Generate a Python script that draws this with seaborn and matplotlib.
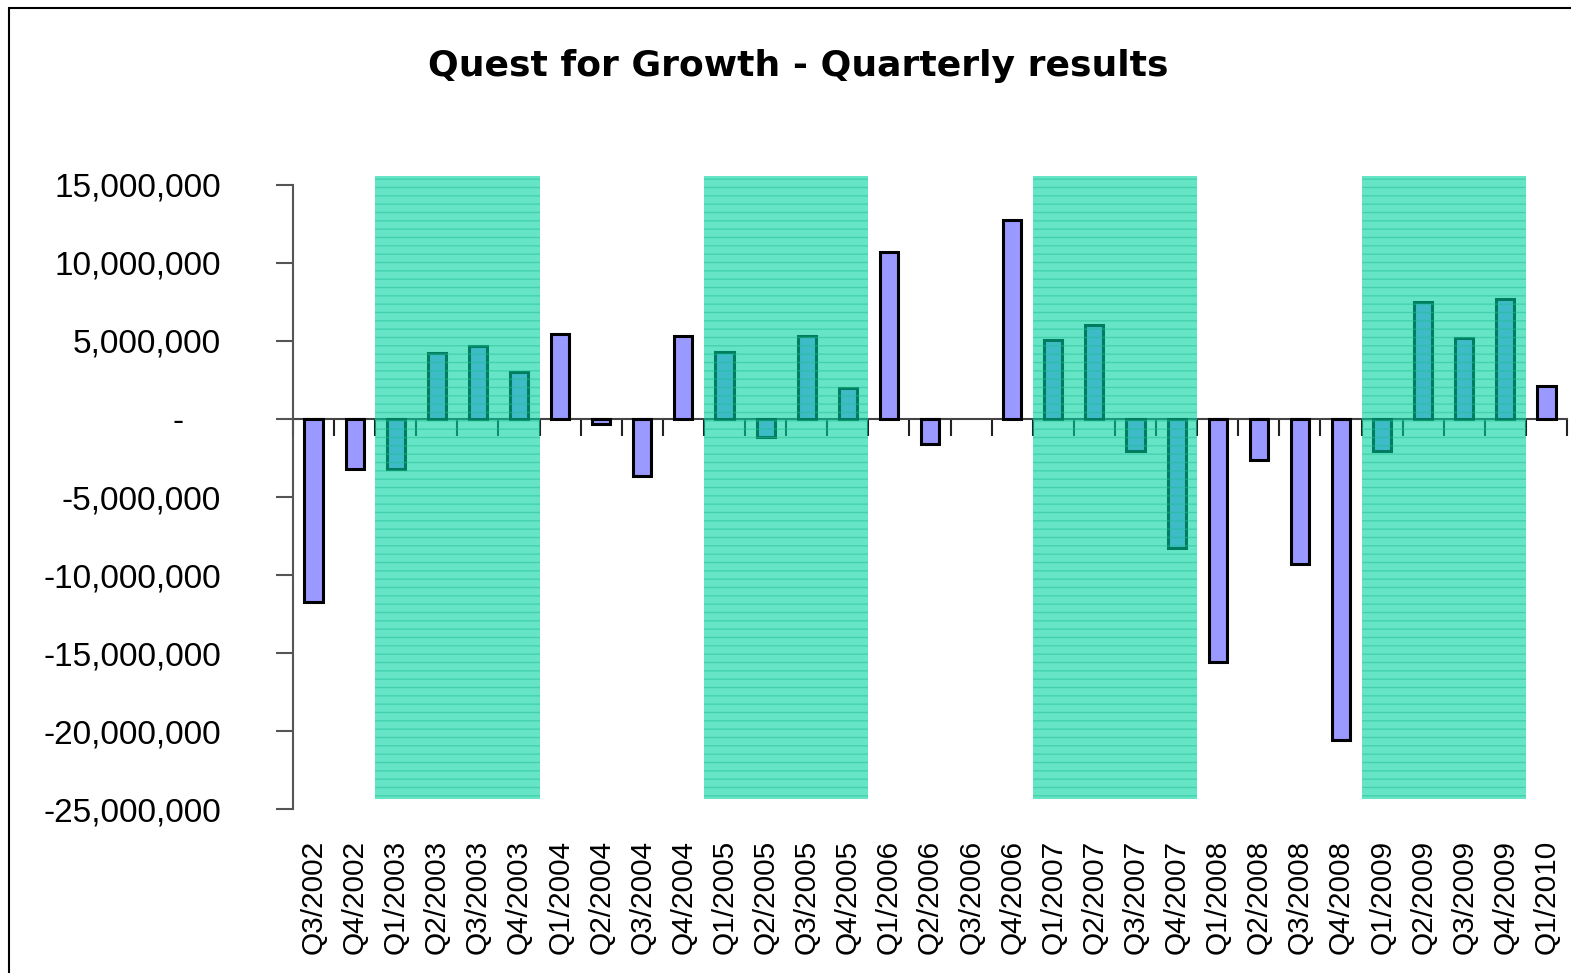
import seaborn as sns
import numpy as np
import pandas as pd
import matplotlib.pyplot as plt
from matplotlib.patches import Rectangle
from matplotlib.ticker import FuncFormatter

quarters = ["Q3/2002", "Q4/2002",
            "Q1/2003", "Q2/2003", "Q3/2003", "Q4/2003",
            "Q1/2004", "Q2/2004", "Q3/2004", "Q4/2004",
            "Q1/2005", "Q2/2005", "Q3/2005", "Q4/2005",
            "Q1/2006", "Q2/2006", "Q3/2006", "Q4/2006",
            "Q1/2007", "Q2/2007", "Q3/2007", "Q4/2007",
            "Q1/2008", "Q2/2008", "Q3/2008", "Q4/2008",
            "Q1/2009", "Q2/2009", "Q3/2009", "Q4/2009",
            "Q1/2010"]
results = [-11.7e6, -3.2e6,
           -3.2e6, 4.2e6, 4.7e6, 3.0e6,
           5.45e6, -0.3e6, -3.65e6, 5.3e6,
           4.3e6, -1.15e6, 5.3e6, 2.0e6,
           10.7e6, -1.6e6, 0.0, 12.75e6,
           5.05e6, 6.0e6, -2.05e6, -8.3e6,
           -15.6e6, -2.6e6, -9.3e6, -20.6e6,
           -2.05e6, 7.5e6, 5.2e6, 7.7e6,
           2.1e6]
# shaded years: first and last quarter
shaded_years = [("Q1/2003", "Q4/2003"), ("Q1/2005", "Q4/2005"),
                ("Q1/2007", "Q4/2007"), ("Q1/2009", "Q4/2009")]
shade_top = 15.6e6
shade_bottom = -24.35e6

df = pd.DataFrame({"Quarter": quarters, "Result": results})

sns.set_theme(style="white")
plt.rcParams['font.family'] = ['Liberation Sans', 'DejaVu Sans']
plt.rcParams['text.color'] = 'black'
plt.rcParams['xtick.color'] = 'black'
plt.rcParams['ytick.color'] = 'black'
plt.rcParams['hatch.linewidth'] = 1.0

fig = plt.figure(figsize=(15.71, 9.73), dpi=100)
ax = fig.add_axes([0.1865, 0.1685, 0.811, 0.6414])

sns.barplot(data=df, x="Quarter", y="Result", color="#9999FF", saturation=1,
            width=0.44, edgecolor="black", linewidth=2.2, ax=ax, zorder=2)
for bar in ax.patches:
    if bar.get_height() == 0:
        bar.set_edgecolor("none")

# green shading drawn over the bars
for start, end in shaded_years:
    i0 = quarters.index(start) - 0.5
    i1 = quarters.index(end) + 0.5
    ax.add_patch(Rectangle((i0, shade_bottom), i1 - i0, shade_top - shade_bottom,
                           facecolor="#00D2A0", alpha=0.6, edgecolor="none",
                           zorder=3, clip_on=False))
    ax.add_patch(Rectangle((i0, shade_bottom), i1 - i0, shade_top - shade_bottom,
                           fill=False, hatch="--", edgecolor="#1FBF90", alpha=0.5,
                           linewidth=0, zorder=3, clip_on=False))

ax.set_xlim(-0.5, len(quarters) - 0.5)
ax.set_ylim(-25e6, 15e6)
ax.set_yticks(np.arange(-25e6, 15e6 + 1, 5e6))
ax.yaxis.set_major_formatter(FuncFormatter(
    lambda v, p: "-    " if abs(v) < 1 else f"{v:,.0f}"))
ax.tick_params(axis="y", direction="out", length=12, width=1.5, color="#555555",
               pad=40, labelsize=24, left=True, labelcolor="black")
ax.tick_params(axis="x", length=0, labelrotation=90, pad=22, labelcolor="black")
plt.setp(ax.get_xticklabels(), fontsize=21.5)
ax.set_xlabel("")
ax.set_ylabel("")

for s in ["top", "right", "bottom"]:
    ax.spines[s].set_visible(False)
ax.spines["left"].set_color("#555555")
ax.spines["left"].set_linewidth(1.5)

# zero line with ticks between categories
sec = ax.secondary_xaxis(0, transform=ax.transData)
sec.set_xticks(np.arange(-0.5, len(quarters), 1.0))
sec.set_xticklabels([])
sec.tick_params(direction="out", length=12, width=1.5, color="#222222")
sec.spines["bottom"].set_color("#444444")
sec.spines["bottom"].set_linewidth(1.5)

fig.text(0.508, 1 - 66 / 973, "Quest for Growth - Quarterly results",
         ha="center", va="center", fontsize=26, fontweight="bold",
         color="black", family="DejaVu Sans")

fig.patches.append(Rectangle((9 / 1571, -0.1), 1.2, 1.1 - 8 / 973,
                             transform=fig.transFigure, fill=False,
                             edgecolor="black", linewidth=1.5))

fig.savefig("out.png", dpi=100)
